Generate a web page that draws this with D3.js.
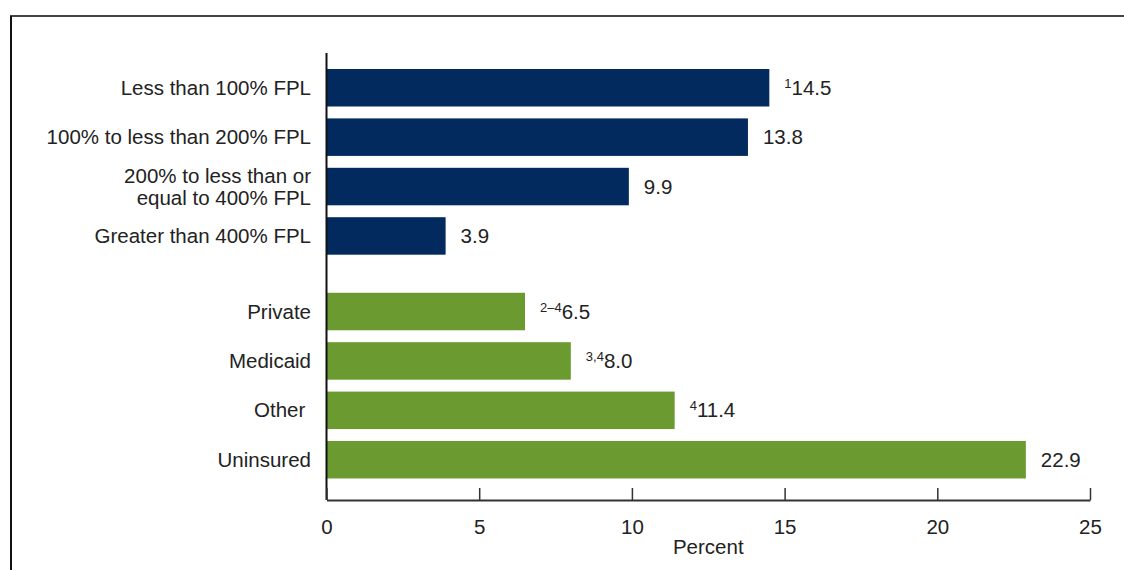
<!DOCTYPE html>
<html>
<head>
<meta charset="utf-8">
<script src="https://cdn.jsdelivr.net/npm/d3@7"></script>
<style>
  body { margin: 0; background: #fff; }
  svg text { font-family: "Liberation Sans", Arial, sans-serif; fill: #222; }
</style>
</head>
<body>
<div id="chart"></div>
<script>
// data
const categories = [
  "Less than 100% FPL",
  "100% to less than 200% FPL",
  "200% to less than or|equal to 400% FPL",
  "Greater than 400% FPL",
  "Private",
  "Medicaid",
  "Other\u00a0",
  "Uninsured"
];
const groups = [0, 0, 0, 0, 1, 1, 1, 1];
const values = [14.5, 13.8, 9.9, 3.9, 6.5, 8.0, 11.4, 22.9];
const notes = ["1", "", "", "", "2\u20134", "3,4", "4", ""];
const xTicks = [0, 5, 10, 15, 20, 25];
const groupColors = ["#032a5e", "#6b9b30"];

const width = 1124, height = 570;
const fontSize = 20.5;

const svg = d3.select("#chart").append("svg")
  .attr("width", width)
  .attr("height", height);

// frame: top and left lines only
svg.append("line").attr("x1", 10).attr("x2", width).attr("y1", 16).attr("y2", 16)
  .attr("stroke", "#444").attr("stroke-width", 2);
svg.append("line").attr("x1", 11).attr("x2", 11).attr("y1", 16).attr("y2", height)
  .attr("stroke", "#111").attr("stroke-width", 2);

const xScale = d3.scaleLinear().domain([0, 25]).range([326.5, 1090]);

// slot position: index plus an extra gap between the two groups
const slot = (d, i) => i + groups[i] * 0.53;
const yScale = d3.scaleLinear().domain([0, 1]).range([69, 118.4]);
const barH = 37.5;

const axisY = 500;

const bars = svg.append("g");
bars.selectAll("rect")
  .data(values)
  .enter()
  .append("rect")
  .attr("x", xScale(0))
  .attr("y", (d, i) => yScale(slot(d, i)))
  .attr("width", d => xScale(d) - xScale(0))
  .attr("height", barH)
  .attr("fill", (d, i) => groupColors[groups[i]]);

// category labels
const labels = svg.append("g");
categories.forEach((c, i) => {
  let lines = c.split("|");
  let cy = yScale(slot(0, i)) + barH / 2;
  let t = labels.append("text")
    .attr("x", 311)
    .attr("text-anchor", "end")
    .attr("font-size", fontSize);
  lines.forEach((l, j) => {
    t.append("tspan")
      .attr("x", 311)
      .attr("y", cy + 7 + (j - (lines.length - 1) / 2) * 22)
      .text(l);
  });
});

// value labels with footnote superscripts
const vals = svg.append("g");
values.forEach((v, i) => {
  let cy = yScale(slot(v, i)) + barH / 2;
  let t = vals.append("text")
    .attr("x", xScale(v) + 15)
    .attr("y", cy + 7)
    .attr("font-size", fontSize);
  if (notes[i]) {
    t.append("tspan").attr("font-size", 13).attr("dy", -7).text(notes[i]);
    t.append("tspan").attr("dy", 7).text(v.toFixed(1));
  } else {
    t.text(v.toFixed(1));
  }
});

// axes
svg.append("line")
  .attr("x1", xScale(0)).attr("x2", xScale(0))
  .attr("y1", 53).attr("y2", axisY)
  .attr("stroke", "#111").attr("stroke-width", 2);

const xAxis = d3.axisBottom(xScale)
  .tickValues(xTicks)
  .tickSize(-12)
  .tickPadding(19)
  .tickSizeOuter(0);

const gx = svg.append("g")
  .attr("transform", `translate(0,${axisY})`)
  .call(xAxis);
gx.select(".domain").attr("stroke", "#333").attr("stroke-width", 2);
gx.selectAll(".tick line").attr("stroke", "#333").attr("stroke-width", 1.5);
gx.selectAll(".tick text")
  .attr("font-size", fontSize)
  .attr("fill", "#222")
  .attr("font-family", "Liberation Sans, Arial, sans-serif");

svg.append("text")
  .attr("x", xScale(12.5))
  .attr("y", 554)
  .attr("text-anchor", "middle")
  .attr("font-size", fontSize)
  .text("Percent");
</script>
</body>
</html>
